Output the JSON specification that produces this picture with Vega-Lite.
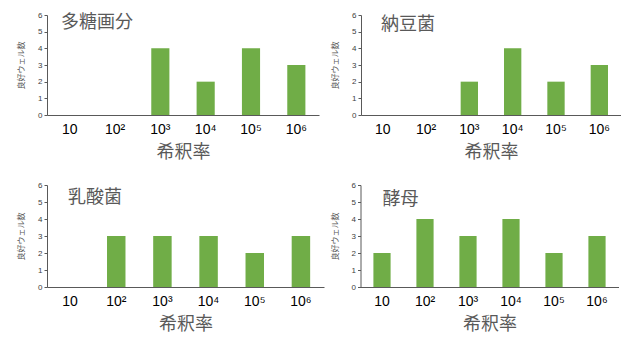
{
  "$schema": "https://vega.github.io/schema/vega-lite/v6.json",
  "background": "white",
  "padding": {"left": 17, "top": 11, "right": 0, "bottom": 0},
  "config": {
    "view": {"stroke": null},
    "font": "Liberation Sans",
    "bar": {"color": "#70AD47"},
    "title": {"anchor": "start", "frame": "group", "font": "Noto Sans CJK JP", "fontSize": 18, "fontWeight": "normal", "color": "#595959", "baseline": "middle"},
    "axisX": {"labelAngle": 0, "labelFontSize": 14, "labelColor": "#000000", "labelFont": "Liberation Sans", "ticks": false, "domainColor": "#595959", "labelPadding": 7, "titleFont": "Noto Sans CJK JP", "titleFontSize": 18, "titleColor": "#595959", "titleFontWeight": "normal", "titlePadding": 7, "grid": false},
    "axisY": {"labelFontSize": 8, "labelColor": "#404040", "tickSize": 3, "tickColor": "#595959", "domainColor": "#595959", "grid": false, "labelPadding": 2, "titleFont": "Noto Sans CJK JP", "titleFontSize": 8, "titleColor": "#595959", "titleFontWeight": "normal", "titlePadding": 12}
  },
  "data": {"values": [
    {"panel": "多糖画分", "dilution": "10", "count": 0},
    {"panel": "多糖画分", "dilution": "10²", "count": 0},
    {"panel": "多糖画分", "dilution": "10³", "count": 4},
    {"panel": "多糖画分", "dilution": "10⁴", "count": 2},
    {"panel": "多糖画分", "dilution": "10⁵", "count": 4},
    {"panel": "多糖画分", "dilution": "10⁶", "count": 3},
    {"panel": "納豆菌", "dilution": "10", "count": 0},
    {"panel": "納豆菌", "dilution": "10²", "count": 0},
    {"panel": "納豆菌", "dilution": "10³", "count": 2},
    {"panel": "納豆菌", "dilution": "10⁴", "count": 4},
    {"panel": "納豆菌", "dilution": "10⁵", "count": 2},
    {"panel": "納豆菌", "dilution": "10⁶", "count": 3},
    {"panel": "乳酸菌", "dilution": "10", "count": 0},
    {"panel": "乳酸菌", "dilution": "10²", "count": 3},
    {"panel": "乳酸菌", "dilution": "10³", "count": 3},
    {"panel": "乳酸菌", "dilution": "10⁴", "count": 3},
    {"panel": "乳酸菌", "dilution": "10⁵", "count": 2},
    {"panel": "乳酸菌", "dilution": "10⁶", "count": 3},
    {"panel": "酵母", "dilution": "10", "count": 2},
    {"panel": "酵母", "dilution": "10²", "count": 4},
    {"panel": "酵母", "dilution": "10³", "count": 3},
    {"panel": "酵母", "dilution": "10⁴", "count": 4},
    {"panel": "酵母", "dilution": "10⁵", "count": 2},
    {"panel": "酵母", "dilution": "10⁶", "count": 3}
  ]},
  "bounds": "flush",
  "spacing": 170,
  "vconcat": [
    {
      "bounds": "flush",
      "spacing": 42,
      "hconcat": [
        {
          "width": 272, "height": 100,
          "title": {"text": "多糖画分", "offset": -21, "dx": 14},
          "transform": [{"filter": "datum.panel === '多糖画分'"}],
          "mark": "bar",
          "encoding": {
            "x": {"field": "dilution", "type": "nominal", "title": "希釈率", "sort": ["10", "10²", "10³", "10⁴", "10⁵", "10⁶"], "scale": {"domain": ["10", "10²", "10³", "10⁴", "10⁵", "10⁶"], "paddingInner": 0.6, "paddingOuter": 0.3}},
            "y": {"field": "count", "type": "quantitative", "title": "良好ウェル数", "scale": {"domain": [0, 6]}, "axis": {"values": [0, 1, 2, 3, 4, 5, 6]}}
          }
        },
        {
          "width": 260, "height": 100,
          "title": {"text": "納豆菌", "offset": -23, "dx": 20},
          "transform": [{"filter": "datum.panel === '納豆菌'"}],
          "mark": "bar",
          "encoding": {
            "x": {"field": "dilution", "type": "nominal", "title": "希釈率", "sort": ["10", "10²", "10³", "10⁴", "10⁵", "10⁶"], "scale": {"domain": ["10", "10²", "10³", "10⁴", "10⁵", "10⁶"], "paddingInner": 0.6, "paddingOuter": 0.3}},
            "y": {"field": "count", "type": "quantitative", "title": "良好ウェル数", "scale": {"domain": [0, 6]}, "axis": {"values": [0, 1, 2, 3, 4, 5, 6]}}
          }
        }
      ]
    },
    {
      "bounds": "flush",
      "spacing": 36.5,
      "hconcat": [
        {
          "width": 277, "height": 102,
          "title": {"text": "乳酸菌", "offset": -26, "dx": 21},
          "transform": [{"filter": "datum.panel === '乳酸菌'"}],
          "mark": "bar",
          "encoding": {
            "x": {"field": "dilution", "type": "nominal", "title": "希釈率", "sort": ["10", "10²", "10³", "10⁴", "10⁵", "10⁶"], "scale": {"domain": ["10", "10²", "10³", "10⁴", "10⁵", "10⁶"], "paddingInner": 0.6, "paddingOuter": 0.3}},
            "y": {"field": "count", "type": "quantitative", "title": "良好ウェル数", "scale": {"domain": [0, 6]}, "axis": {"values": [0, 1, 2, 3, 4, 5, 6]}}
          }
        },
        {
          "width": 258, "height": 102,
          "title": {"text": "酵母", "offset": -28, "dx": 22},
          "transform": [{"filter": "datum.panel === '酵母'"}],
          "mark": "bar",
          "encoding": {
            "x": {"field": "dilution", "type": "nominal", "title": "希釈率", "sort": ["10", "10²", "10³", "10⁴", "10⁵", "10⁶"], "scale": {"domain": ["10", "10²", "10³", "10⁴", "10⁵", "10⁶"], "paddingInner": 0.6, "paddingOuter": 0.3}},
            "y": {"field": "count", "type": "quantitative", "title": "良好ウェル数", "scale": {"domain": [0, 6]}, "axis": {"values": [0, 1, 2, 3, 4, 5, 6]}}
          }
        }
      ]
    }
  ]
}
